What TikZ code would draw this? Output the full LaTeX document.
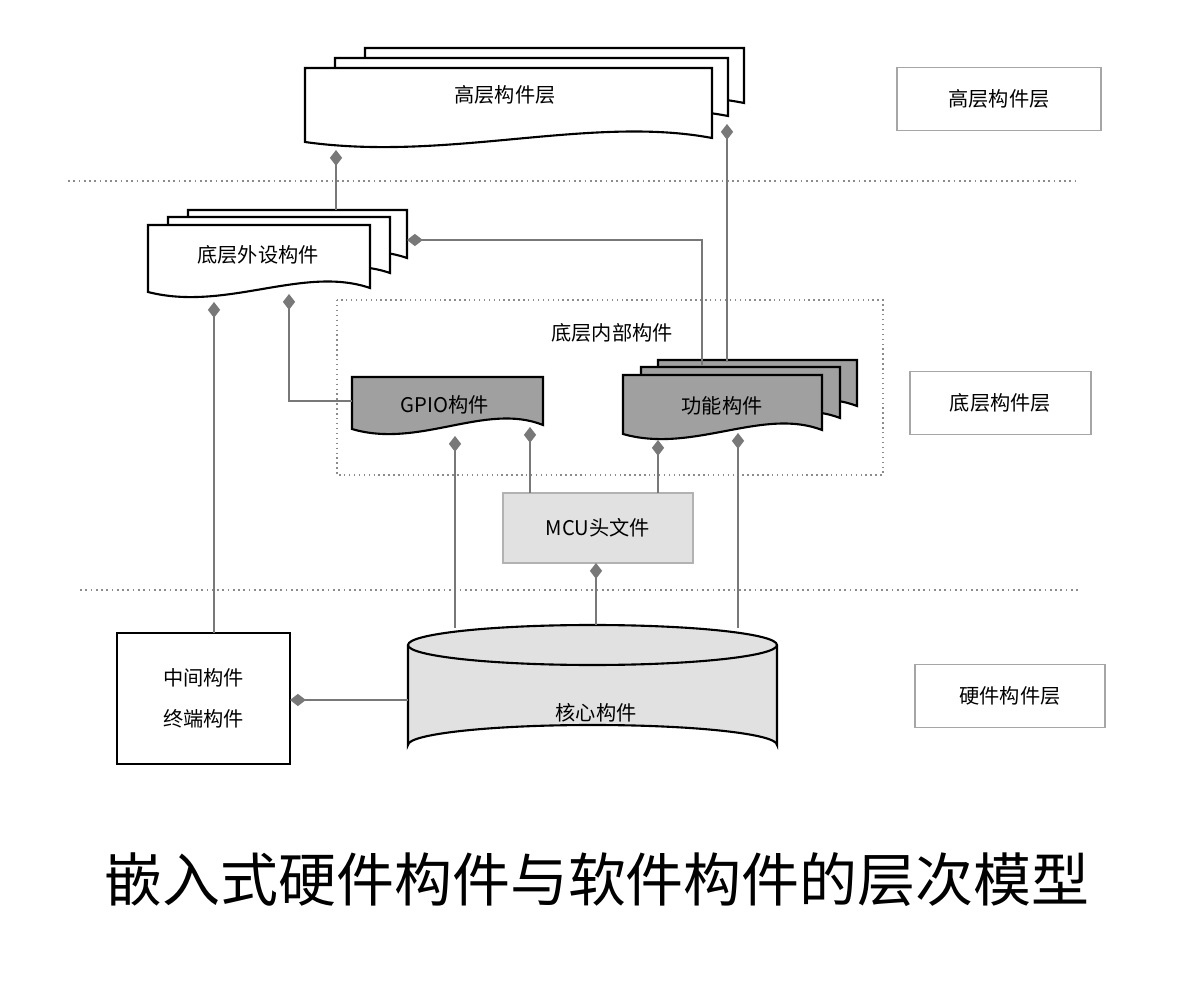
\documentclass[tikz,border=0pt]{standalone}
\usepackage{fontspec}
\setmainfont{Noto Sans CJK SC}
\usetikzlibrary{arrows.meta}
\definecolor{lnk}{RGB}{120,120,120}
\definecolor{dkfill}{RGB}{160,160,160}
\definecolor{ltfill}{RGB}{225,225,225}
\tikzset{
  doc/.style={draw=black, line width=1.2pt, fill=white},
  lbl/.style={font=\fontsize{11.5}{13}\selectfont},
  side/.style={draw=black!35, line width=0.8pt, minimum width=#1, minimum height=1.25cm, font=\fontsize{11.5}{13}\selectfont},
  link/.style={draw=lnk, line width=1.2pt, -{Diamond[length=9pt,width=7pt]}},
  sep/.style={draw=black!45, dotted, line width=1pt}
}
% document page: x1 y1 x2 y2 (pixel coords), style
\newcommand{\docpage}[5]{%
  \path[#5] (#1,#2) -- (#3,#2) -- (#3,#4-12)
    .. controls ({#1+0.7*(#3-#1)},#4-35) and ({#1+0.35*(#3-#1)},#4+12) .. (#1,#4-8) -- cycle;}
\begin{document}
\begin{tikzpicture}[x=0.02cm, y=-0.02cm]
\useasboundingbox (0,0) rectangle (1188,993);

% separators
\draw[sep] (68,181) -- (1080,181);
\draw[sep] (80,590) -- (1080,590);

% high-level components
\docpage{365}{48}{744}{115}{doc}
\docpage{335}{58}{728}{128}{doc}
\docpage{305}{68}{712}{150}{doc}
\node[lbl] (high) at (505,95) {高层构件层};

% low-level peripheral components
\docpage{188}{210}{407}{270}{doc}
\docpage{168}{217}{390}{285}{doc}
\docpage{148}{225}{370}{300}{doc}
\node[lbl] (periph) at (258,255) {底层外设构件};

% internal components group
\draw[sep, line width=0.8pt] (337,300) rectangle (883,475);
\node[lbl] (inner) at (612,333) {底层内部构件};

% GPIO
\docpage{352}{377}{543}{437}{doc, fill=dkfill}
\node[lbl] (gpio) at (445,405) {GPIO构件};

% function components
\docpage{658}{360}{857}{418}{doc, fill=dkfill}
\docpage{641}{367}{840}{430}{doc, fill=dkfill}
\docpage{623}{375}{822}{442}{doc, fill=dkfill}
\node[lbl] (func) at (722,406) {功能构件};

% MCU header
\node[draw=black!30, fill=ltfill, line width=0.8pt, minimum width=3.8cm, minimum height=1.4cm, lbl] (mcu) at (598,528) {MCU头文件};

% core cylinder
\path[draw=black, line width=1.2pt, fill=ltfill]
  (408,645) -- (408,745) arc[start angle=180, end angle=360, x radius=184.5, y radius=20] -- (777,645);
\draw[line width=1.2pt, fill=ltfill] (592.5,645) ellipse[x radius=184.5, y radius=20];
\node[lbl] (core) at (596,713) {核心构件};

% middle / terminal
\node[draw=black, line width=1.2pt, minimum width=3.46cm, minimum height=2.62cm, align=center, lbl] (mid) at (203.5,698.5) {中间构件\\[10pt]终端构件};

% side labels
\node[side=4.08cm] (s1) at (999,99) {高层构件层};
\node[side=3.62cm] (s2) at (1000.5,403) {底层构件层};
\node[side=3.8cm] (s3) at (1010,696) {硬件构件层};

% title
\node[font=\fontsize{33}{38}\selectfont] (title) at (597,880) {嵌入式硬件构件与软件构件的层次模型};

% connector anchor points
\coordinate (p1) at (336,210); \coordinate (p1e) at (336,150);
\coordinate (p2) at (727,362); \coordinate (p2e) at (727,124);
\coordinate (p3) at (702,365); \coordinate (p3e) at (407,240);
\coordinate (p4) at (214,633); \coordinate (p4e) at (214,302);
\coordinate (p5) at (352,401); \coordinate (p5e) at (289,294);
\coordinate (p6) at (455,628); \coordinate (p6e) at (455,436);
\coordinate (p7) at (530,493); \coordinate (p7e) at (530,427);
\coordinate (p8) at (658,493); \coordinate (p8e) at (658,440);
\coordinate (p9) at (738,628); \coordinate (p9e) at (738,433);
\coordinate (p10) at (596,625); \coordinate (p10e) at (596,563);
\coordinate (p11) at (408,700); \coordinate (p11e) at (290,700);

\draw[link] (p1) -- (p1e);
\draw[link] (p2) -- (p2e);
\draw[link] (p3) |- (p3e);
\draw[link] (p4) -- (p4e);
\draw[link] (p5) -| (p5e);
\draw[link] (p6) -- (p6e);
\draw[link] (p7) -- (p7e);
\draw[link] (p8) -- (p8e);
\draw[link] (p9) -- (p9e);
\draw[link] (p10) -- (p10e);
\draw[link] (p11) -- (p11e);
\end{tikzpicture}
\end{document}
